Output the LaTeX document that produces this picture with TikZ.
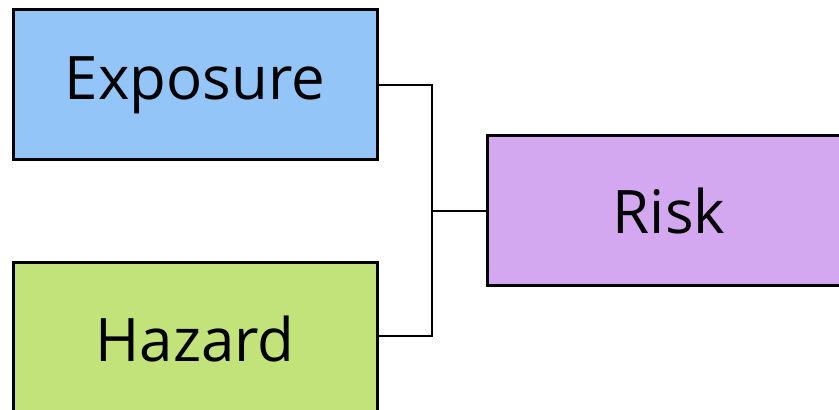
\documentclass[tikz,border=0pt]{standalone}
\usepackage{fontspec}
\setmainfont{Open Sans}
\definecolor{expblue}{HTML}{93C5F9}
\definecolor{hazgreen}{HTML}{C2E37A}
\definecolor{riskpurple}{HTML}{D4A8F0}
\begin{document}
\begin{tikzpicture}[x=0.5pt,y=-0.5pt,
  box/.style={draw=black, line width=1.5pt, minimum width=182pt, minimum height=75pt, inner sep=0pt, font=\fontsize{30}{36}\selectfont},
  link/.style={draw=black, line width=0.8pt}]
\useasboundingbox (0,0) rectangle (839,410);
\clip (0,0) rectangle (839,410);
\node[box, fill=expblue] (exp) at (195,85) {Exposure};
\node[box, fill=hazgreen, minimum height=80pt, anchor=north] (haz) at (195,261) {\raisebox{4pt}{Hazard}};
\node[box, fill=riskpurple] (risk) at (669,211) {Risk};
\coordinate (j) at (432,211);
\coordinate (hz) at (377,336);
\draw[link] (exp.east) -| (j) |- (hz);
\draw[link] (j) -- (risk.west);
\end{tikzpicture}
\end{document}
